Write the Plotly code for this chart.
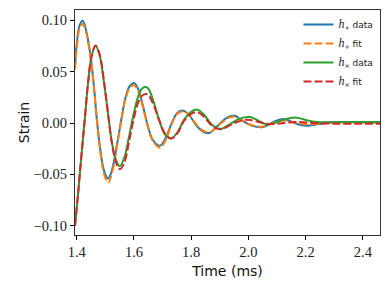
import plotly.graph_objects as go

# ---- data ----
t_plus = [1.394, 1.402, 1.410, 1.421, 1.432, 1.447, 1.458, 1.470, 1.482, 1.496,
          1.510, 1.524, 1.540, 1.555, 1.570, 1.585, 1.600, 1.615, 1.632, 1.648,
          1.665, 1.691, 1.712, 1.732, 1.752, 1.773, 1.795, 1.820, 1.845, 1.866,
          1.888, 1.910, 1.930, 1.953, 1.975, 2.000, 2.025, 2.052, 2.075, 2.095,
          2.122, 2.145, 2.170, 2.195, 2.216, 2.245, 2.280, 2.330, 2.400, 2.460]
h_plus_data = [0.056, 0.082, 0.095, 0.0995, 0.091, 0.068, 0.042, 0.005, -0.025, -0.047,
               -0.054, -0.045, -0.022, 0.002, 0.024, 0.036, 0.039, 0.033, 0.016, -0.002,
               -0.016, -0.022, -0.014, 0.000, 0.010, 0.012, 0.007, -0.003, -0.009, -0.0095,
               -0.004, 0.002, 0.006, 0.007, 0.003, -0.001, -0.0035, -0.0038, -0.001, 0.002,
               0.0040, 0.002, -0.001, -0.0025, -0.0025, -0.001, 0.0005, 0.001, 0.0005, 0.0005]
h_plus_fit = [0.052, 0.078, 0.092, 0.0965, 0.089, 0.067, 0.041, 0.004, -0.027, -0.050,
              -0.058, -0.048, -0.024, 0.001, 0.023, 0.034, 0.037, 0.031, 0.015, -0.003,
              -0.017, -0.024, -0.016, -0.001, 0.009, 0.0115, 0.007, -0.002, -0.008, -0.009,
              -0.004, 0.001, 0.005, 0.006, 0.003, -0.001, -0.003, -0.0035, -0.0015, 0.001,
              0.0025, 0.0015, 0.000, -0.001, -0.0012, -0.0008, 0.0, 0.0003, 0.0002, 0.0001]

t_cross = [1.394, 1.405, 1.416, 1.428, 1.440, 1.452, 1.466, 1.480, 1.495, 1.510,
           1.522, 1.537, 1.551, 1.566, 1.583, 1.600, 1.615, 1.630, 1.647, 1.665,
           1.688, 1.708, 1.730, 1.752, 1.775, 1.800, 1.822, 1.845, 1.870, 1.890,
           1.907, 1.930, 1.960, 1.985, 2.006, 2.030, 2.060, 2.085, 2.110, 2.140,
           2.170, 2.200, 2.240, 2.300, 2.380, 2.460]
h_cross_data = [-0.100, -0.068, -0.033, 0.003, 0.040, 0.065, 0.075, 0.066, 0.040, 0.008,
                -0.017, -0.036, -0.042, -0.034, -0.013, 0.010, 0.026, 0.034, 0.0345, 0.024,
                0.003, -0.011, -0.015, -0.009, 0.003, 0.011, 0.013, 0.008, -0.001, -0.005,
                -0.0055, -0.002, 0.003, 0.0055, 0.0058, 0.003, -0.001, -0.0005, 0.002, 0.0045,
                0.0052, 0.003, 0.001, 0.0008, 0.001, 0.001]
h_cross_fit = [-0.100, -0.068, -0.033, 0.003, 0.040, 0.065, 0.0755, 0.067, 0.041, 0.008,
               -0.018, -0.038, -0.045, -0.039, -0.018, 0.005, 0.020, 0.027, 0.028, 0.020,
               0.003, -0.010, -0.015, -0.010, 0.002, 0.009, 0.0105, 0.006, -0.002, -0.0055,
               -0.006, -0.003, 0.001, 0.003, 0.003, 0.0015, -0.0005, -0.001, -0.0005, 0.0005,
               0.001, 0.0005, -0.0003, -0.0006, -0.0006, -0.0006]

x_ticks = [1.4, 1.6, 1.8, 2.0, 2.2, 2.4]
y_ticks = [-0.10, -0.05, 0.00, 0.05, 0.10]

H = "<span style=\"font-family:'Liberation Serif', serif; font-size:12px\"><i>h</i></span>"
names = [H + "<sub>+</sub> data", H + "<sub>+</sub> fit",
         H + "<sub>×</sub> data", H + "<sub>×</sub> fit"]

fig = go.Figure()
fig.add_trace(go.Scatter(x=t_plus, y=h_plus_data, mode="lines", name=names[0],
                         line=dict(color="#1f77b4", width=2, shape="spline")))
fig.add_trace(go.Scatter(x=t_plus, y=h_plus_fit, mode="lines", name=names[1],
                         line=dict(color="#ff7f0e", width=2, dash="8px,3px", shape="spline")))
fig.add_trace(go.Scatter(x=t_cross, y=h_cross_data, mode="lines", name=names[2],
                         line=dict(color="#2ca02c", width=2, shape="spline")))
fig.add_trace(go.Scatter(x=t_cross, y=h_cross_fit, mode="lines", name=names[3],
                         line=dict(color="#d62728", width=2, dash="8px,3px", shape="spline")))

serif = "Liberation Serif, DejaVu Serif, serif"
axis_common = dict(showgrid=False, zeroline=False, showline=True, mirror=True,
                   linecolor="#333333", linewidth=1.1, ticks="outside", ticklen=4,
                   tickcolor="#000000", tickwidth=1, automargin=False,
                   tickfont=dict(family=serif, size=14.5, color="#222222"))

# the page body adds an 8px offset; the figure is sized/margined to compensate
fig.update_layout(
    width=382, height=282,
    margin=dict(l=67, r=10, t=2, b=55),
    plot_bgcolor="white", paper_bgcolor="white",
    showlegend=True,
    legend=dict(x=0.995, y=1.0, xanchor="right", yanchor="top",
                bgcolor="rgba(0,0,0,0)", borderwidth=0,
                font=dict(family="DejaVu Sans", size=9, color="#222222"),
                itemwidth=30),
    xaxis=dict(range=[1.394, 2.46], tickvals=x_ticks, tickformat=".1f",
               title=dict(text="Time (ms)", font=dict(family="DejaVu Sans", size=14, color="#111111"),
                          standoff=6),
               **axis_common),
    yaxis=dict(range=[-0.109, 0.11], tickvals=y_ticks, tickformat=".2f",
               title=dict(text="Strain", font=dict(family="DejaVu Sans", size=14, color="#111111"),
                          standoff=0),
               **axis_common),
)

fig.write_html("out.html")
